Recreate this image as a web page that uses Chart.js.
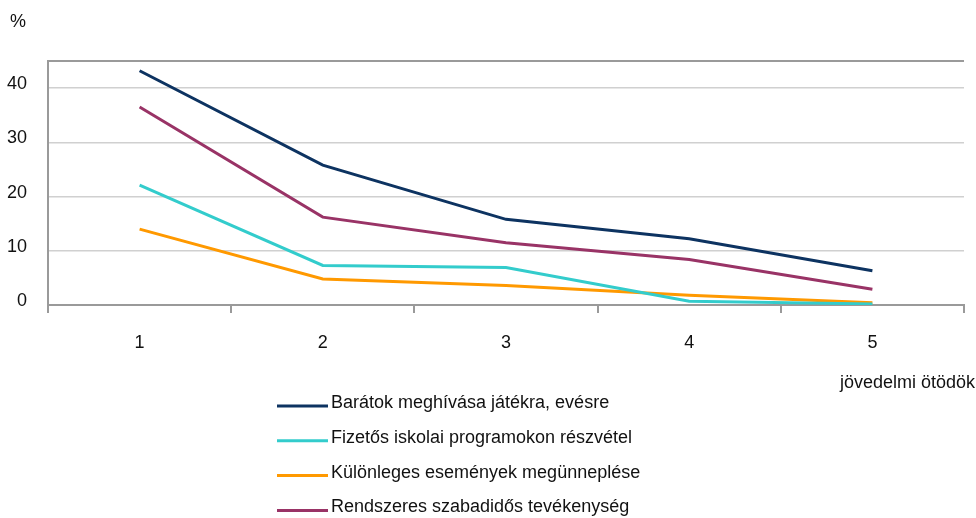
<!DOCTYPE html>
<html>
<head>
<meta charset="utf-8">
<script src="https://cdn.jsdelivr.net/npm/chart.js@4"></script>
<style>
  html, body { margin: 0; padding: 0; background: #fff; }
  #wrap { width: 976px; height: 518px; }
</style>
</head>
<body>
<div id="wrap"><canvas id="chart" width="976" height="518"></canvas></div>
<script>
// jövedelmi ötödök (income quintiles)
const quintiles = ['1', '2', '3', '4', '5'];

const seriesNames = [
    'Barátok meghívása játékra, evésre',
    'Fizetős iskolai programokon részvétel',
    'Különleges események megünneplése',
    'Rendszeres szabadidős tevékenység'
];
const baratok = [43.2, 25.8, 15.8, 12.2, 6.3];
const fizetos = [22.1, 7.3, 6.9, 0.7, 0.2];
const kulonleges = [14.0, 4.8, 3.6, 1.8, 0.4];
const rendszeres = [36.5, 16.2, 11.5, 8.4, 2.9];

const colors = ['#0d3361', '#33cccc', '#ff9900', '#993366'];
const yTicks = [0, 10, 20, 30, 40];

const FONT = 'Liberation Sans, Arial, sans-serif';
const axisGray = '#9a9a9a';
const gridGray = '#d0d0d0';

// keep legend order as in the picture
const allData = [baratok, fizetos, kulonleges, rendszeres];

const extraText = {
    id: 'extraText',
    afterDraw(chart) {
        const ctx = chart.ctx;
        ctx.save();
        ctx.fillStyle = '#111';
        ctx.font = '18px ' + FONT;
        ctx.textBaseline = 'middle';
        ctx.textAlign = 'left';
        ctx.fillText('%', 10, 22);
        ctx.textAlign = 'right';
        ctx.fillText('jövedelmi ötödök', 975, 383);

        // vertical legend
        ctx.textAlign = 'left';
        chart.data.datasets.forEach((ds, i) => {
            const y = 403 + i * 34.8;
            ctx.strokeStyle = ds.borderColor;
            ctx.lineWidth = 3;
            ctx.beginPath();
            ctx.moveTo(277, y + 3);
            ctx.lineTo(328, y + 3);
            ctx.stroke();
            ctx.fillText(ds.label, 331, y);
        });
        ctx.restore();
    }
};

new Chart(document.getElementById('chart'), {
    type: 'line',
    data: {
        labels: quintiles,
        datasets: allData.map((d, i) => ({
            label: seriesNames[i],
            data: d,
            borderColor: colors[i],
            backgroundColor: colors[i],
            borderWidth: 3,
            pointRadius: 0,
            tension: 0,
            fill: false
        }))
    },
    options: {
        responsive: false,
        animation: false,
        layout: { padding: { top: 61, right: 12, left: 0, bottom: 0 } },
        plugins: {
            legend: { display: false },
            tooltip: { enabled: false }
        },
        scales: {
            x: {
                offset: true,
                grid: {
                    offset: true,
                    drawOnChartArea: true,
                    color: c => (c.index === quintiles.length ? axisGray : 'rgba(0,0,0,0)'),
                    lineWidth: 2,
                    tickColor: axisGray,
                    tickLength: 8
                },
                border: { color: axisGray, width: 2 },
                ticks: {
                    color: '#111',
                    font: { family: FONT, size: 18 },
                    padding: 19,
                    maxRotation: 0
                },
                afterFit(scale) { scale.height = 213; }
            },
            y: {
                min: 0,
                max: 45,
                ticks: {
                    stepSize: 10,
                    color: '#111',
                    font: { family: FONT, size: 18 },
                    padding: 21,
                    labelOffset: -4,
                    callback: v => (yTicks.includes(v) ? v : '')
                },
                grid: {
                    drawTicks: false,
                    color: c => (c.tick && c.tick.value === 45 ? axisGray : gridGray),
                    lineWidth: c => (c.tick && c.tick.value === 45 ? 2 : 1.5)
                },
                border: { color: axisGray, width: 2 },
                afterFit(scale) { scale.width = 48; }
            }
        }
    },
    plugins: [extraText]
});
</script>
</body>
</html>
